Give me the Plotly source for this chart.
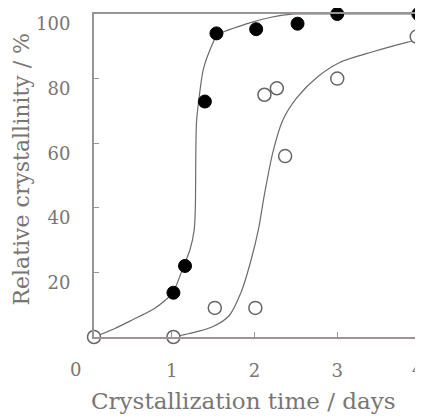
import plotly.graph_objects as go

# filled series (measured points)
filled_t = [1.02, 1.16, 1.40, 1.54, 2.02, 2.52, 3.00, 3.98]
filled_y = [13.7, 22.0, 72.9, 94.0, 95.3, 97.0, 100.0, 100.0]
# open series (measured points)
open_t = [0.06, 1.02, 1.52, 2.01, 2.12, 2.27, 2.37, 3.00, 3.96]
open_y = [0.0, 0.0, 9.0, 9.0, 75.0, 77.0, 56.0, 80.0, 93.0]
# fitted curves
fit1_t = [0.06, 0.3, 0.5, 0.8, 1.01, 1.14, 1.22, 1.27, 1.285, 1.29, 1.30, 1.38, 1.48, 1.55, 1.91, 2.2, 2.48, 3.0, 4.0]
fit1_y = [0.0, 2.5, 5.0, 9.0, 13.6, 21.7, 27.0, 33.0, 40.0, 55.0, 67.0, 82.7, 90.0, 93.5, 97.0, 99.0, 100.0, 100.0, 100.0]
fit2_t = [1.02, 1.2, 1.48, 1.69, 1.84, 1.96, 2.05, 2.11, 2.22, 2.34, 2.51, 2.76, 3.03, 3.43, 3.84, 4.0]
fit2_y = [0.0, 1.0, 3.0, 6.5, 14.0, 24.0, 33.6, 42.7, 57.0, 67.0, 74.0, 80.5, 85.0, 88.3, 91.2, 92.2]

x_ticks = [1, 2, 3]
y_ticks = [20, 40, 60, 80, 100]

gray_line = "#6e6a6a"
text_col = "#7a7575"
axis_col = "#9a9494"
font_fam = "DejaVu Serif"

fig = go.Figure()
fig.add_trace(go.Scatter(x=fit1_t, y=fit1_y, mode="lines", line=dict(color=gray_line, width=1.2, shape="spline", smoothing=0.6), hoverinfo="skip", cliponaxis=False))
fig.add_trace(go.Scatter(x=fit2_t, y=fit2_y, mode="lines", line=dict(color=gray_line, width=1.2, shape="spline", smoothing=0.8), hoverinfo="skip", cliponaxis=False))
fig.add_trace(go.Scatter(x=filled_t, y=filled_y, mode="markers", marker=dict(size=13, color="black", line=dict(color="black", width=1)), cliponaxis=False))
fig.add_trace(go.Scatter(x=open_t, y=open_y, mode="markers", marker=dict(size=13, color="white", line=dict(color="#666", width=1.5)), cliponaxis=False))

# page body has an 8px margin; figure is sized to fill the rest of the window
fig.update_layout(
    width=415, height=410,
    margin=dict(l=86, r=3, t=6, b=81, autoexpand=False),
    paper_bgcolor="white", plot_bgcolor="white",
    showlegend=False,
    font=dict(family=font_fam, size=18, color=text_col),
    xaxis=dict(range=[0.06, 4.0], tickvals=x_ticks, ticks="inside", ticklen=5, tickcolor=axis_col,
               showline=True, linecolor=axis_col, linewidth=2, mirror=True, showgrid=False, zeroline=False,
               ticklabelstandoff=16),
    yaxis=dict(range=[0, 100], tickvals=y_ticks, ticks="inside", ticklen=5, tickcolor=axis_col,
               showline=True, linecolor=axis_col, linewidth=2, mirror=True, showgrid=False, zeroline=False,
               ticklabelstandoff=18, ticklabelshift=10),
    annotations=[
        dict(text="0", xref="paper", yref="paper", x=0, y=0, xanchor="center", yanchor="middle",
             xshift=-19, yshift=-32, showarrow=False, font=dict(size=18, color=text_col)),
        dict(text="4", xref="x", yref="paper", x=4, y=0, xanchor="center", yanchor="middle",
             xshift=-3, yshift=-32, showarrow=False, font=dict(size=18, color=text_col)),
        dict(text="Crystallization time / days", xref="paper", yref="paper", x=0, y=0, xanchor="center", yanchor="middle",
             xshift=149, yshift=-64, showarrow=False, font=dict(size=23, color=text_col)),
        dict(text="Relative crystallinity / %", xref="paper", yref="paper", x=0, y=0.5, xanchor="center", yanchor="middle",
             xshift=-73, yshift=6, textangle=-90, showarrow=False, font=dict(size=22, color=text_col)),
    ],
)
fig.write_html("out.html")
